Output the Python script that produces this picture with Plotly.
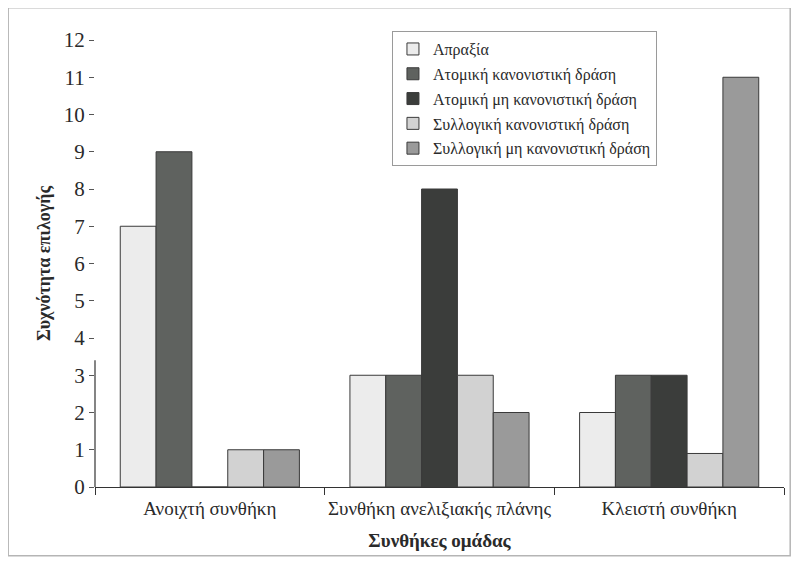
import plotly.graph_objects as go

categories = ["Ανοιχτή συνθήκη", "Συνθήκη ανελιξιακής πλάνης", "Κλειστή συνθήκη"]
series_names = [
    "Απραξία",
    "Ατομική κανονιστική δράση",
    "Ατομική μη κανονιστική δράση",
    "Συλλογική κανονιστική δράση",
    "Συλλογική μη κανονιστική δράση",
]
apraxia = [7, 3, 2]
atomiki_kan = [9, 3, 3]
atomiki_mi_kan = [0, 8, 3]
syllogiki_kan = [1, 3, 0.9]
syllogiki_mi_kan = [1, 2, 11]
y_ticks = list(range(0, 13))

values = [apraxia, atomiki_kan, atomiki_mi_kan, syllogiki_kan, syllogiki_mi_kan]
colors = ["#ececec", "#5f625f", "#3b3d3b", "#d2d2d2", "#9a9a9a"]

fig = go.Figure()
for i, (name, vals) in enumerate(zip(series_names, values)):
    fig.add_trace(go.Bar(
        x=categories, y=vals, name=name,
        marker=dict(color=colors[i], line=dict(color="#3a3a3a", width=1)),
        legendgroup=str(i),
    ))

serif = "Liberation Serif"
fig.update_layout(
    width=799, height=566,
    margin=dict(l=87, r=23, t=32, b=87),
    paper_bgcolor="white", plot_bgcolor="white",
    barmode="group", bargap=0.22, bargroupgap=0,
    font=dict(family=serif, color="#2a2a2a"),
    showlegend=True,
    legend=dict(
        x=0.431, y=1.02, xanchor="left", yanchor="top",
        bgcolor="white", bordercolor="#9a9a9a", borderwidth=1,
        font=dict(family=serif, size=16, color="#2a2a2a"),
        tracegroupgap=1, itemwidth=30,
    ),
)
fig.update_xaxes(
    showline=True, linecolor="#333", linewidth=1.2,
    ticks="outside", tickson="boundaries", ticklen=7, tickcolor="#333",
    tickfont=dict(family=serif, size=19), tickangle=0, automargin=False,
    showgrid=False, ticklabelstandoff=4,
    title=dict(text="<b>Συνθήκες ομάδας</b>", font=dict(family=serif, size=19), standoff=15),
)
fig.update_yaxes(
    range=[0, 12], tickvals=y_ticks, showline=False, automargin=False,
    ticks="outside", ticklen=5, tickcolor="#555",
    tickfont=dict(family=serif, size=21), showgrid=False, zeroline=False,
    title=dict(text="<b>Συχνότητα επιλογής</b>", font=dict(family=serif, size=18), standoff=8),
)
# partial y axis line as in the scan
fig.add_shape(type="line", xref="paper", yref="y", x0=0, x1=0, y0=0, y1=3.4,
              line=dict(color="#333", width=1.2))
# outer frame
fig.add_shape(type="rect", xref="paper", yref="paper",
              x0=-0.126, x1=1.009, y0=-0.154, y1=1.072,
              line=dict(color="#b5b5b5", width=1.5))

fig.write_html("out.html")
